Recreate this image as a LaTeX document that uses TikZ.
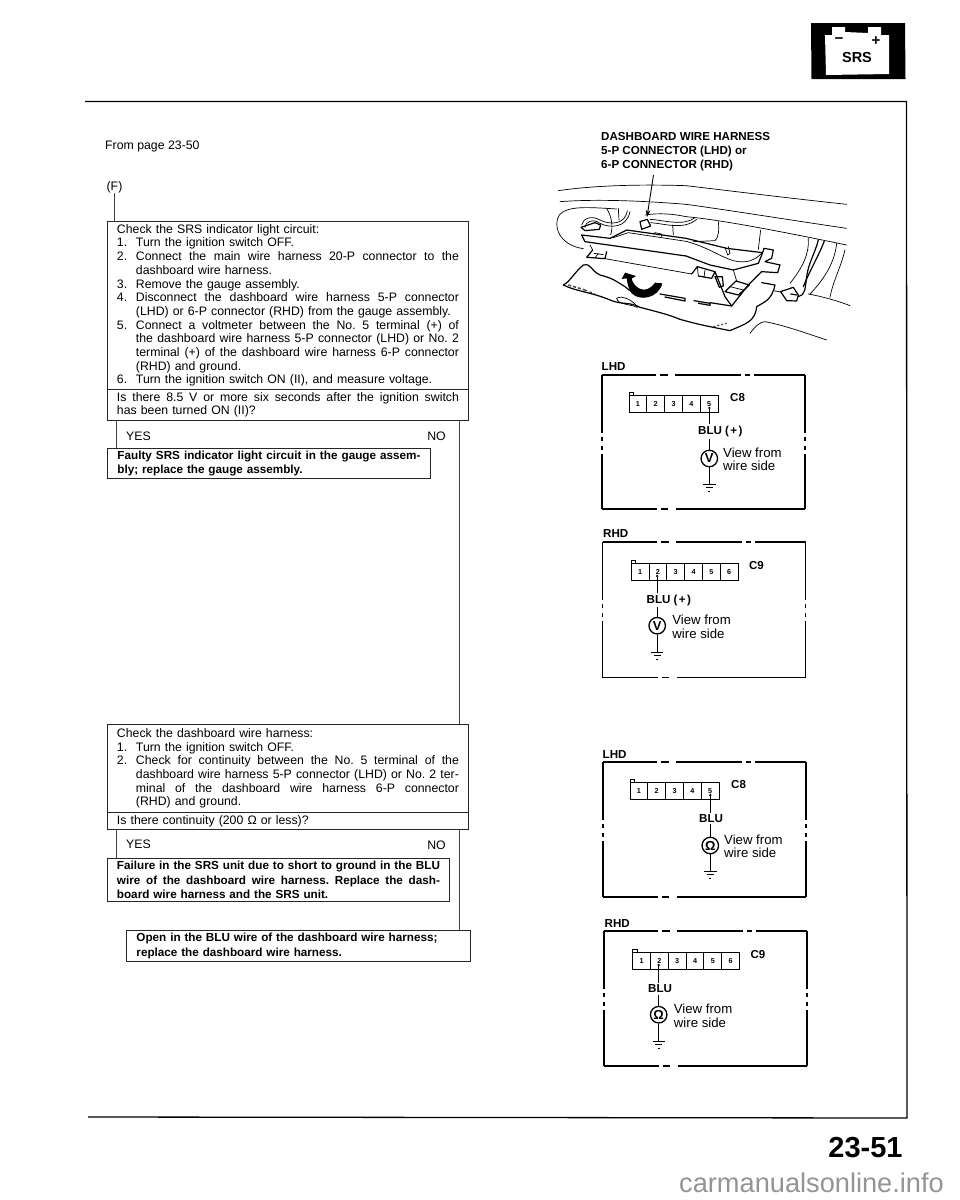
\documentclass[tikz,border=0pt]{standalone}
\usepackage{fontspec}
\setmainfont{Liberation Sans}
\usetikzlibrary{arrows.meta}
\newcommand{\Sp}{\frenchspacing\spaceskip=0.278em plus 1fil minus 0.1em\relax}
\newcommand{\Jl}[1]{\makebox[\linewidth][s]{\Sp #1}}
\newcommand{\Nl}[2]{\makebox[19pt][l]{#1}\makebox[\dimexpr\linewidth-19pt\relax][s]{\Sp #2}}
\newcommand{\Nf}[2]{\makebox[19pt][l]{#1}#2}
\newcommand{\Il}[1]{\hspace*{19pt}\makebox[\dimexpr\linewidth-19pt\relax][s]{\Sp #1}}
\newcommand{\If}[1]{\hspace*{19pt}#1}
\tikzset{
  x=1pt,y=-1pt,
  txt/.style={inner sep=0pt,font={\fontsize{12.3}{13.6}\selectfont}},
  vtxt/.style={inner sep=0pt,font={\fontsize{13.2}{13.4}\selectfont}},
  lbl/.style={inner xsep=0pt,inner ysep=1.5pt,font={\fontsize{11.6}{13.6}\bfseries\selectfont}},
  tbox/.style={draw=black!85,line width=0.9pt,anchor=north west,inner sep=0pt,align=left,
     font={\fontsize{12.3}{13.7}\selectfont}},
  bbox/.style={tbox,font={\fontsize{11.7}{14.4}\bfseries\selectfont}},
  flow/.style={draw=black!75,line width=0.9pt},
  frameln/.style={line width=1.3pt,black},
  cell/.style={draw,line width=1pt,minimum width=17.8pt,minimum height=17pt,inner sep=0pt,
     font={\fontsize{7.2}{7.5}\bfseries\selectfont}},
  meter/.style={draw,circle,line width=1.3pt,minimum size=16.5pt,inner sep=0pt,
     font={\fontsize{13}{13}\bfseries\selectfont}},
  wire/.style={line width=0.8pt},
  sk/.style={line width=0.7pt,line join=round,line cap=round},
  skb/.style={line width=1.2pt,line join=round,line cap=round},
}
\newcommand{\framesegs}[1]{%
  \draw[frameln] (0,0) -- (54,0) (58,0) -- (66,0) (73,0) -- (139,0) (143,0) -- (148,0) (152,0) -- (203,0);
  \draw[frameln] (0,#1) -- (55,#1) (59,#1) -- (66,#1) (74,#1) -- (203,#1);
  \draw[frameln] (0,0) -- (0,58) (0,62) -- (0,66) (0,71) -- (0,75) (0,79) -- (0,#1);
  \draw[frameln] (203,0) -- (203,58) (203,62) -- (203,66) (203,71) -- (203,75) (203,79) -- (203,#1);
}
\newcommand{\cgnd}[1]{%
  \draw[line width=0.9pt] (#1) ++(-6.2,0) -- ++(12.4,0) (#1) ++(-3.4,3.6) -- ++(6.8,0) (#1) ++(-1,7.6) -- ++(2,0);
}
\newcommand{\panelL}[6]{%
\begin{scope}[shift={(#1,#2)},name prefix=#3-]
  \framesegs{#4}
  \node[lbl,anchor=west] (hd) at (-0.5,-8) {LHD};
  \foreach \i in {1,...,5}{\node[cell] (c\i) at ({27+8.9+(\i-1)*17.8},29.2) {\i};}
  \draw[line width=1pt] (27,20.7) -- (27,17.2) -- (31.7,17.2) -- (31.7,20.7);
  \node[lbl,anchor=west,font={\fontsize{11.5}{12}\bfseries\selectfont}] (cn) at (128,22.7) {C8};
  \node[lbl,anchor=west] (bl) at (96,56.5) {#5};
  \coordinate (p) at (107.3,33);
  \node[meter] (m) at (107.3,83.5) {#6};
  \coordinate (g) at (107.3,109);
  \fill (p) circle (1.3pt);
  \draw[wire] (p) -- (p |- bl.north) (p |- bl.south) -- (m.north) (m.south) -- (g);
  \cgnd{g}
  \node[vtxt,anchor=north west,align=left] (vf) at (121,72.5) {View from\\wire side};
\end{scope}}
\newcommand{\panelR}[6]{%
\begin{scope}[shift={(#1,#2)},name prefix=#3-]
  \framesegs{#4}
  \node[lbl,anchor=west] (hd) at (0.5,-8) {RHD};
  \foreach \i in {1,...,6}{\node[cell] (c\i) at ({28.7+8.9+(\i-1)*17.8},30) {\i};}
  \draw[line width=1pt] (28.7,21.5) -- (28.7,18) -- (33.4,18) -- (33.4,21.5);
  \node[lbl,anchor=west,font={\fontsize{11.5}{12}\bfseries\selectfont}] (cn) at (146.3,24) {C9};
  \node[lbl,anchor=west] (bl) at (44,58) {#5};
  \coordinate (p) at (54.7,34);
  \node[meter] (m) at (54.7,83.7) {#6};
  \coordinate (g) at (54.7,110.3);
  \fill (p) circle (1.3pt);
  \draw[wire] (p) -- (p |- bl.north) (p |- bl.south) -- (m.north) (m.south) -- (g);
  \cgnd{g}
  \node[vtxt,anchor=north west,align=left] (vf) at (69.7,73) {View from\\wire side};
\end{scope}}
\newcommand{\Blup}{BLU\hspace{3pt}(\hspace{1.5pt}+\hspace{1.5pt})}
\begin{document}
\begin{tikzpicture}
\useasboundingbox (0,0) rectangle (960,1200);
\fill[white] (0,0) rectangle (960,1200);

% SRS badge
\fill[black] (811,23) -- (905,23) -- (905.5,79) -- (811.5,79) -- cycle;
\fill[white] (825,35) -- (832,35) -- (832,27) -- (845,27) -- (845,32) -- (868,33) -- (868,27) -- (881,27) -- (881,35) -- (889,35) -- (889,74) -- (826,75) -- cycle;
\node[inner sep=0pt,font={\fontsize{14.5}{15}\bfseries\selectfont}] (srs) at (857,58) {SRS};
\node[inner sep=0pt,font={\fontsize{15}{15}\bfseries\selectfont}] (minus) at (839,40.7) {−};
\node[inner sep=0pt,font={\fontsize{15}{15}\bfseries\selectfont}] (plus) at (876,41) {+};

% page frame
\coordinate (ftl) at (85,101.5);
\coordinate (ftr) at (906.5,101.5);
\coordinate (fbr) at (907,1118);
\coordinate (fbl) at (88,1117);
\draw[frameln] (ftl) -- (ftr) -- (fbr) -- (fbl);

\node[txt,anchor=west] (from) at (105,146.5) {From page 23-50};
\node[txt,anchor=center] (F) at (114.5,187) {(F)};

\node[tbox,minimum width=361pt,minimum height=168pt,text width=342pt] (check) at (107,221) {%
Check the SRS indicator light circuit:\\
\Nf{1.}{Turn the ignition switch OFF.}\\
\Nl{2.}{Connect the main wire harness 20-P connector to the}\\
\If{dashboard wire harness.}\\
\Nf{3.}{Remove the gauge assembly.}\\
\Nl{4.}{Disconnect the dashboard wire harness 5-P connector}\\
\Nf{}{(LHD) or 6-P connector (RHD) from the gauge assembly.}\\
\Nl{5.}{Connect a voltmeter between the No. 5 terminal (+) of}\\
\Il{the dashboard wire harness 5-P connector (LHD) or No. 2}\\
\Il{terminal (+) of the dashboard wire harness 6-P connector}\\
\If{(RHD) and ground.}\\
\Nf{6.}{Turn the ignition switch ON (II), and measure voltage.}};
\node[tbox,minimum width=361pt,minimum height=31pt,text width=342pt] (q1) at (107,389) {%
\Jl{Is there 8.5 V or more six seconds after the ignition switch}\\
has been turned ON (II)?};
\draw[flow] (F.south) -- (F.south |- check.north);

\coordinate (y1) at (116,420);
\coordinate (n1) at (459,420);
\node[txt,anchor=west] (yes1) at (126,436) {YES};
\node[txt,anchor=east] (no1) at (446,436.5) {NO};
\node[bbox,minimum width=323pt,minimum height=30pt,text width=303pt] (faulty) at (107,448) {%
\Jl{Faulty SRS indicator light circuit in the gauge assem-}\\
bly; replace the gauge assembly.};
\draw[flow] (y1) -- (y1 |- faulty.north);

\node[tbox,minimum width=361pt,minimum height=88pt,text width=342pt] (check2) at (107,724) {%
Check the dashboard wire harness:\\
\Nf{1.}{Turn the ignition switch OFF.}\\
\Nl{2.}{Check for continuity between the No. 5 terminal of the}\\
\Il{dashboard wire harness 5-P connector (LHD) or No. 2 ter-}\\
\Il{minal of the dashboard wire harness 6-P connector}\\
\If{(RHD) and ground.}};
\node[tbox,minimum width=361pt,minimum height=17pt,text width=342pt] (q2) at (107,812) {%
Is there continuity (200 Ω or less)?};
\draw[flow] (n1) -- (n1 |- check2.north);

\coordinate (y2) at (116,829);
\coordinate (n2) at (459,829);
\node[txt,anchor=west] (yes2) at (126,844) {YES};
\node[txt,anchor=east] (no2) at (446,845) {NO};
\node[bbox,minimum width=342pt,minimum height=43pt,text width=323pt] (fail) at (107,858) {%
\Jl{Failure in the SRS unit due to short to ground in the BLU}\\
\Jl{wire of the dashboard wire harness. Replace the dash-}\\
board wire harness and the SRS unit.};
\node[bbox,minimum width=344pt,minimum height=31pt,text width=324pt] (open) at (126,930) {%
Open in the BLU wire of the dashboard wire harness;\\
replace the dashboard wire harness.};
\draw[flow] (y2) -- (y2 |- fail.north);
\draw[flow] (n2) -- (n2 |- open.north);

% header + arrow
\node[anchor=north west,inner sep=0pt,align=left,font={\fontsize{11.6}{14}\bfseries\selectfont}] (hdr) at (601,132) {DASHBOARD WIRE HARNESS\\5-P CONNECTOR (LHD) or\\6-P CONNECTOR (RHD)};
\coordinate (ah) at (653.5,175);
\coordinate (at) at (647,217);
\draw[line width=0.9pt,-{Stealth[length=7pt,width=4.5pt]}] (ah) -- (at);

% illustration: left half
\begin{scope}[shift={(550,170)},x=0.3333pt,y=-0.3333pt]
 \draw[sk] (25,62) .. controls (120,48) and (250,42) .. (408,47);
 \draw[sk] (30,95) .. controls (120,88) and (250,90) .. (408,103);
 \draw[sk] (170,115) .. controls (110,112) and (50,108) .. (28,135) .. controls (8,165) and (25,225) .. (100,236);
 \draw[sk] (170,115) -- (200,117);
 \draw[sk] (285,135) .. controls (330,128) and (370,132) .. (408,140);
 % left connector and wire
 \draw[sk] (95,165) .. controls (98,145) and (125,135) .. (150,150) .. controls (180,165) and (225,165) .. (232,122);
 \draw[sk] (105,172) .. controls (105,155) and (130,145) .. (150,160) .. controls (180,175) and (230,175) .. (240,125);
 \draw[skb] (93,172) -- (135,158) -- (152,165) -- (148,178) -- (105,182) -- cycle;
 \draw[sk] (170,115) .. controls (185,140) and (190,170) .. (182,195);
 \draw[sk] (205,115) -- (207,150);
 % middle connector
 \draw[skb] (270,155) -- (292,148) -- (302,168) -- (275,178) -- cycle;
 \draw[sk] (300,148) .. controls (340,150) and (400,170) .. (435,143);
 \draw[sk] (302,158) .. controls (340,160) and (400,182) .. (440,148);
 \draw[sk] (368,165) -- (370,195);
 % gauge lip
 \draw[skb] (95,195) -- (180,205) -- (230,180) -- (408,205);
 \draw[skb] (95,195) -- (105,215) -- (408,258);
 \draw[sk] (190,203) -- (235,188) -- (408,214);
 \draw[sk] (310,192) -- (315,188) -- (335,192) -- (335,200);
 \draw[skb] (128,240) -- (110,262) -- (165,266) -- (170,245);
 \draw[sk] (132,250) -- (160,254);
 \draw[sk] (145,250) -- (135,264);
 \draw[sk] (165,266) -- (425,312);
 \draw[sk] (120,225) -- (128,240);
 \draw[skb] (425,312) -- (442,290);
 \draw[sk] (442,290) -- (445,318);
 % cloth
 \draw[skb] (40,345) .. controls (60,335) and (75,305) .. (100,285) .. controls (125,280) and (120,300) .. (150,315) .. controls (190,325) and (200,335) .. (225,350) .. controls (240,365) and (260,375) .. (300,375);
 \draw[skb] (40,345) .. controls (80,365) and (120,365) .. (180,390) .. controls (215,405) and (240,395) .. (270,412) .. controls (320,425) and (360,435) .. (390,448);
 \draw[sk] (200,385) .. controls (215,375) and (250,390) .. (262,412);
 \draw[sk] (200,385) .. controls (205,405) and (240,402) .. (262,412);
 \draw[line width=1.6pt,black!70,dash pattern=on 3pt off 2pt] (55,345) -- (105,360);
 \draw[sk,dash pattern=on 2pt off 3pt] (105,360) -- (135,372);
 % black strips
 \draw[skb] (330,372) -- (405,385) -- (405,393) -- (345,381);
 \draw[skb] (432,392) -- (480,400) -- (480,406) -- (445,400);
 % curved arrow
 \fill[black] (215,327) -- (225,308) -- (258,318) -- (245,326) .. controls (250,350) and (285,380) .. (315,338) -- (337,340) .. controls (325,385) and (270,395) .. (245,370) .. controls (235,355) and (232,340) .. (230,325) -- cycle;
\end{scope}
% illustration: right half
\begin{scope}[shift={(690,170)},x=0.3333pt,y=-0.3333pt]
 \draw[sk] (-12,47) .. controls (100,60) and (300,85) .. (470,103);
 \draw[sk] (-12,103) .. controls (100,118) and (300,150) .. (470,175);
 \draw[sk] (-12,140) .. controls (100,150) and (300,190) .. (470,225);
 \draw[sk] (85,155) .. controls (88,180) and (85,205) .. (75,212) -- (10,215);
 \draw[sk] (212,180) -- (205,238);
 \draw[skb] (-12,205) -- (110,235) -- (218,248) -- (222,235) -- (250,240) -- (245,265) -- (225,275) -- (270,285) -- (263,308) -- (215,305) -- (175,345) -- (125,408) -- (60,398);
 \draw[skb] (-12,258) -- (60,285) -- (130,300) -- (205,280) -- (218,248);
 \draw[sk] (-12,214) .. controls (50,230) and (90,260) .. (130,272) .. controls (170,282) and (195,270) .. (215,250);
 \draw[sk] (105,232) -- (113,255) -- (120,250) -- (115,230);
 \draw[skb] (22,290) -- (75,305) -- (105,380) -- (125,408);
 \draw[skb] (25,318) -- (65,325) -- (75,305);
 \draw[sk] (45,300) -- (42,322);
 \draw[skb] (75,320) -- (97,320) -- (100,348) -- (88,352) -- cycle;
 \draw[skb] (105,365) -- (138,333) -- (178,345) -- (145,375) -- cycle;
 \draw[sk] (120,350) -- (160,360);
 \draw[sk] (130,300) -- (140,333);
 % cloth
 \draw[skb] (-30,448) .. controls (30,465) and (60,470) .. (120,482) .. controls (170,460) and (195,455) .. (200,410) .. controls (225,395) and (245,390) .. (255,345) -- (215,338);
 \draw[line width=1.2pt,black!70,dash pattern=on 2pt off 2pt] (70,470) -- (110,460);
 % right connector and wires
 \draw[skb] (272,365) -- (310,352) -- (325,375) -- (320,393) -- (290,392) -- cycle;
 \draw[skb] (302,372) -- (320,375);
 \draw[skb] (325,380) .. controls (345,375) and (345,360) .. (350,320) .. controls (355,280) and (375,250) .. (385,210);
 \draw[skb] (340,350) .. controls (360,300) and (385,260) .. (403,213);
 \draw[sk] (355,205) .. controls (358,250) and (340,290) .. (300,340);
 \draw[sk] (440,220) .. controls (435,270) and (410,320) .. (360,372);
 \draw[sk] (465,240) .. controls (450,300) and (430,330) .. (420,382);
 \draw[sk] (355,372) .. controls (400,380) and (450,395) .. (480,407);
 \draw[sk] (250,362) -- (272,366);
 % lower right curve
 \draw[sk] (180,490) .. controls (195,470) and (210,455) .. (225,455) .. controls (280,465) and (350,490) .. (410,510);
\end{scope}

% wiring panels
\panelL{602}{375}{a}{134}{\Blup}{V}
\panelR{602.5}{542}{b}{135.5}{\Blup}{V}
\panelL{603}{762}{c}{135}{BLU}{Ω}
\panelR{604}{931}{d}{135}{BLU}{Ω}

% page number
\node[inner sep=0pt,font={\fontsize{29}{30}\bfseries\selectfont}] (pg) at (865.5,1148) {23-51};
\node[inner sep=0pt,text=black!42,font={\fontsize{27.2}{30}\selectfont}] (wm) at (811.5,1183) {carmanualsonline.info};
\end{tikzpicture}
\end{document}
